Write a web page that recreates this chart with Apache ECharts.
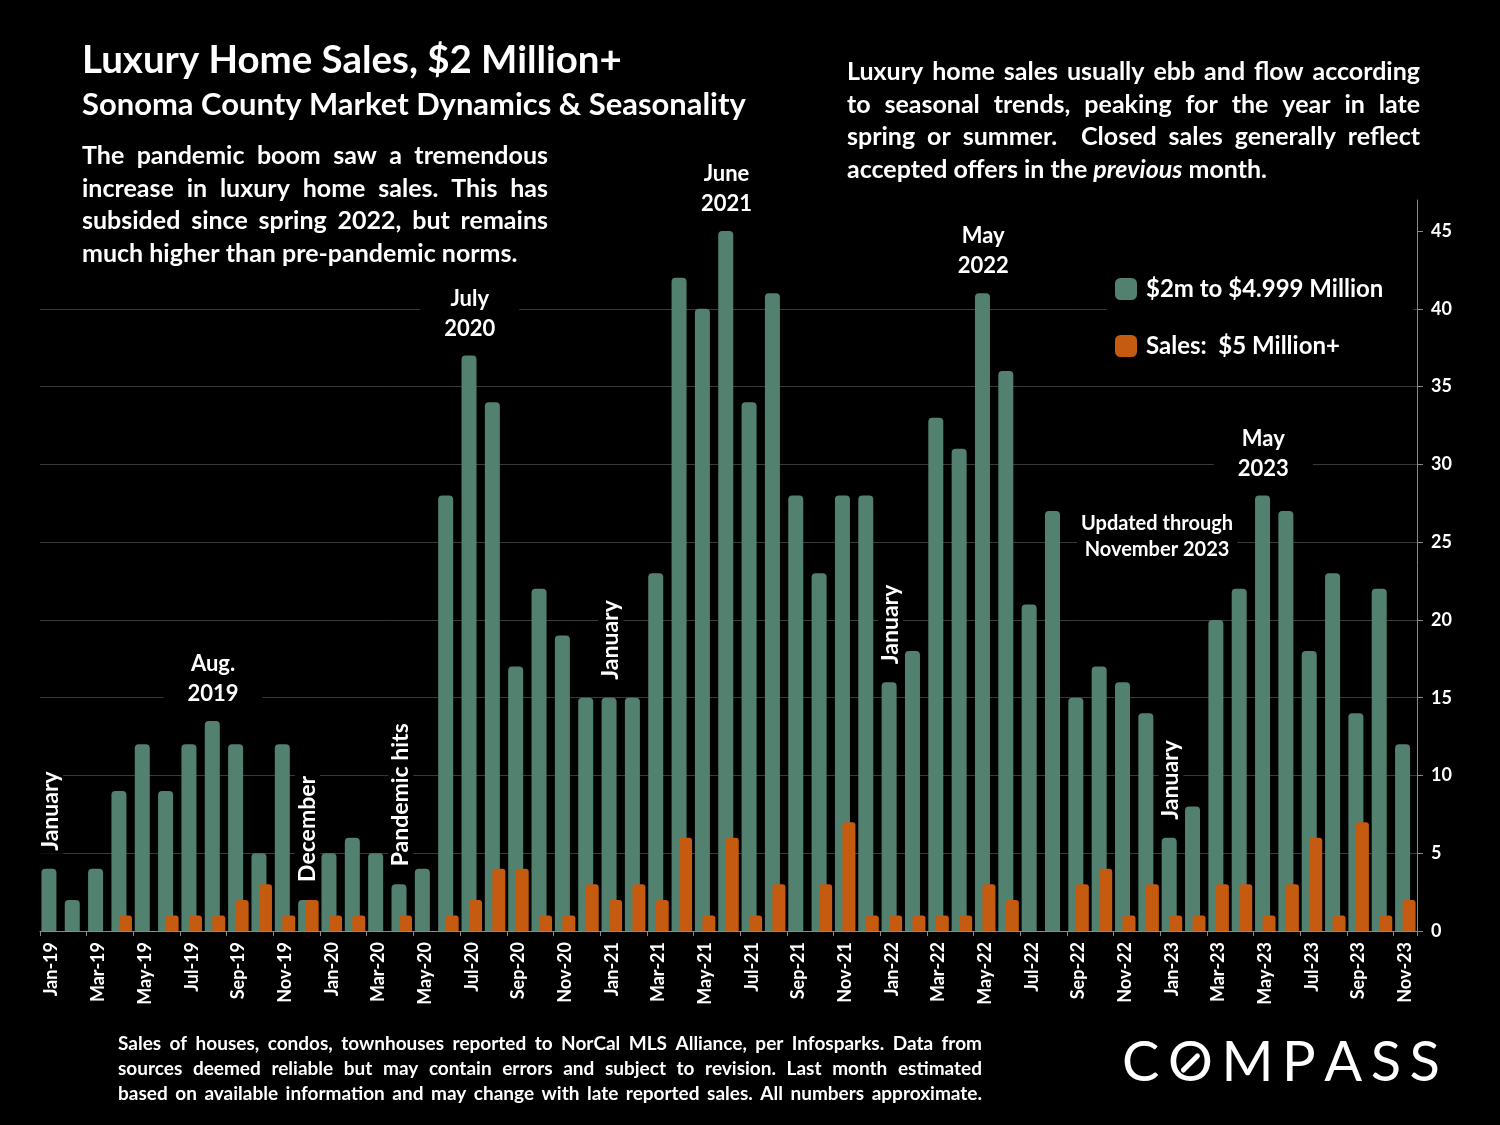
<!DOCTYPE html>
<html>
<head>
<meta charset="utf-8">
<script src="https://cdn.jsdelivr.net/npm/echarts@6/dist/echarts.min.js"></script>
<style>
html,body{margin:0;padding:0;background:#000;}
#c{width:1500px;height:1125px;}
</style>
</head>
<body>
<div id="c"></div>
<script>
// ---------------- DATA ----------------
const months = [
  'Jan-19','Feb-19','Mar-19','Apr-19','May-19','Jun-19','Jul-19','Aug-19','Sep-19','Oct-19','Nov-19','Dec-19',
  'Jan-20','Feb-20','Mar-20','Apr-20','May-20','Jun-20','Jul-20','Aug-20','Sep-20','Oct-20','Nov-20','Dec-20',
  'Jan-21','Feb-21','Mar-21','Apr-21','May-21','Jun-21','Jul-21','Aug-21','Sep-21','Oct-21','Nov-21','Dec-21',
  'Jan-22','Feb-22','Mar-22','Apr-22','May-22','Jun-22','Jul-22','Aug-22','Sep-22','Oct-22','Nov-22','Dec-22',
  'Jan-23','Feb-23','Mar-23','Apr-23','May-23','Jun-23','Jul-23','Aug-23','Sep-23','Oct-23','Nov-23'
];
const sales2to5m = [
  4, 2, 4, 9, 12, 9, 12, 13.5, 12, 5, 12, 2,
  5, 6, 5, 3, 4, 28, 37, 34, 17, 22, 19, 15,
  15, 15, 23, 42, 40, 45, 34, 41, 28, 23, 28, 28,
  16, 18, 33, 31, 41, 36, 21, 27, 15, 17, 16, 14,
  6, 8, 20, 22, 28, 27, 18, 23, 14, 22, 12
];
const sales5mPlus = [
  0, 0, 0, 1, 0, 1, 1, 1, 2, 3, 1, 2,
  1, 1, 0, 1, 0, 1, 2, 4, 4, 1, 1, 3,
  2, 3, 2, 6, 1, 6, 1, 3, 0, 3, 7, 1,
  1, 1, 1, 1, 3, 2, 0, 0, 3, 4, 1, 3,
  1, 1, 3, 3, 1, 3, 6, 1, 7, 1, 2
];
const yTickValues = [0, 5, 10, 15, 20, 25, 30, 35, 40, 45];
const seriesNames = ['$2m to $4.999 Million', 'Sales:  $5 Million+'];

const titleText = 'Luxury Home Sales, $2 Million+';
const subtitleText = 'Sonoma County Market Dynamics & Seasonality';
const leftParagraph = [
  'The pandemic boom saw a tremendous',
  'increase in luxury home sales. This has',
  'subsided since spring 2022, but remains',
  'much higher than pre-pandemic norms.'
];
const rightParagraph = [
  'Luxury home sales usually ebb and flow according',
  'to seasonal trends, peaking for the year in late',
  'spring or summer.  Closed sales generally reflect',
  'accepted offers in the *previous* month.'
];
const footerParagraph = [
  'Sales of houses, condos, townhouses reported to NorCal MLS Alliance, per Infosparks. Data from',
  'sources deemed reliable but may contain errors and subject to revision. Last month estimated',
  'based on available information and may change with late reported sales. All numbers approximate.'
];
const logoText = 'COMPASS';
const updatedNote = 'Updated through\nNovember 2023';

// annotations anchored to categories
const peakNotes = [
  { text: 'Aug.\n2019', cat: 'Aug-19' },
  { text: 'July\n2020', cat: 'Jul-20' },
  { text: 'June\n2021', cat: 'Jun-21' },
  { text: 'May\n2022', cat: 'May-22' },
  { text: 'May\n2023', cat: 'May-23' }
];
const verticalNotes = [
  { text: 'January', cat: 'Jan-19' },
  { text: 'December', cat: 'Dec-19' },
  { text: 'Pandemic hits', cat: 'Apr-20' },
  { text: 'January', cat: 'Jan-21' },
  { text: 'January', cat: 'Jan-22' },
  { text: 'January', cat: 'Jan-23' }
];

// ---------------- STYLE ----------------
const FONT = 'Lato';
const GREEN = '#52826F';
const ORANGE = '#C55A11';
const GRIDC = '#3a3a3a';
const AXISC = '#8a8a8a';

const chart = echarts.init(document.getElementById('c'), null, { renderer: 'canvas' });

chart.setOption({
  backgroundColor: '#000',
  animation: false,
  grid: { left: 40, right: 83, top: 200, bottom: 194 },
  legend: {
    orient: 'vertical',
    left: 1107, top: 268,
    itemWidth: 22, itemHeight: 22, itemGap: 33,
    icon: 'roundRect',
    backgroundColor: '#000',
    padding: [9, 30, 9, 8],
    textStyle: { color: '#fff', fontFamily: FONT, fontWeight: 'bold', fontSize: 24, padding: [0, 0, 0, 4] },
    data: seriesNames
  },
  xAxis: {
    type: 'category',
    data: months,
    boundaryGap: true,
    axisLine: { show: true, lineStyle: { color: AXISC, width: 1 } },
    axisTick: { show: true, interval: 1, length: 5, lineStyle: { color: AXISC } },
    axisLabel: { interval: 1, rotate: 90, color: '#fff', fontFamily: FONT, fontWeight: 'bold', fontSize: 18, margin: 11 },
    splitLine: { show: false }
  },
  yAxis: {
    type: 'value',
    position: 'right',
    min: 0, max: 47, interval: 5,
    axisLine: { show: true, lineStyle: { color: AXISC, width: 1 } },
    axisTick: { show: true, length: 6, customValues: yTickValues, lineStyle: { color: AXISC } },
    axisLabel: { customValues: yTickValues, color: '#fff', fontFamily: FONT, fontWeight: 'bold', fontSize: 18, margin: 14 },
    splitLine: { show: true, showMaxLine: false, lineStyle: { color: GRIDC, width: 1 } }
  },
  series: [
    {
      name: seriesNames[0], type: 'bar', data: sales2to5m,
      barWidth: 15, barGap: '-50%',
      itemStyle: { color: GREEN, borderRadius: [4, 4, 0, 0] },
      z: 2
    },
    {
      name: seriesNames[1], type: 'bar', data: sales5mPlus,
      barWidth: 13, barGap: '-50%',
      itemStyle: { color: ORANGE, borderRadius: [3, 3, 0, 0] },
      z: 3
    }
  ]
});

// ---------------- TEXT HELPERS ----------------
const mctx = document.createElement('canvas').getContext('2d');
function tw(t, size, weight, italic) {
  mctx.font = (italic ? 'italic ' : '') + weight + ' ' + size + 'px ' + FONT;
  return mctx.measureText(t).width;
}
function parseWords(line) {
  return line.split(' ').map(w => {
    const it = w.length > 2 && w[0] === '*' && w[w.length - 1] === '*';
    return { t: it ? w.slice(1, -1) : w, it: it };
  });
}
function paragraph(lines, x, y0, lh, width, size, weight, justifyLast, els) {
  let maxNat = 0;
  lines.forEach(l => {
    const ws = parseWords(l);
    let s = 0; ws.forEach(w => s += tw(w.t, size, weight, w.it));
    s += (ws.length - 1) * tw(' ', size, weight);
    maxNat = Math.max(maxNat, s);
  });
  if (maxNat > width * 0.99) size = size * width * 0.99 / maxNat;
  lines.forEach((l, i) => {
    const ws = parseWords(l);
    let s = 0; ws.forEach(w => { w.w = tw(w.t, size, weight, w.it); s += w.w; });
    const justify = (i < lines.length - 1) || justifyLast;
    const gap = justify && ws.length > 1 ? (width - s) / (ws.length - 1) : tw(' ', size, weight);
    let cx = x;
    ws.forEach(w => {
      if (w.t.length) {
        els.push({
          type: 'text', x: cx, y: y0 + i * lh, z: 10,
          style: {
            text: w.t, fill: '#fff', fontFamily: FONT, fontWeight: weight, fontSize: size,
            fontStyle: w.it ? 'italic' : 'normal', align: 'left', verticalAlign: 'middle'
          }
        });
      }
      cx += w.w + gap;
    });
  });
}
function fitSize(text, weight, width, base) {
  return base * width / tw(text, base, weight);
}

// ---------------- GRAPHICS ----------------
const els = [];
els.push({ type: 'rect', z: 1, shape: { x: 74, y: 136, width: 492, height: 134 }, style: { fill: '#000' } });

const tSize = fitSize(titleText, 'bold', 540, 34);
els.push({ type: 'text', x: 82, y: 61, z: 10, style: { text: titleText, fill: '#fff', fontFamily: FONT, fontWeight: 'bold', fontSize: tSize, align: 'left', verticalAlign: 'middle' } });
const sSize = fitSize(subtitleText, 'bold', 664, 27);
els.push({ type: 'text', x: 82, y: 105, z: 10, style: { text: subtitleText, fill: '#fff', fontFamily: FONT, fontWeight: 'bold', fontSize: sSize, align: 'left', verticalAlign: 'middle' } });

paragraph(leftParagraph, 82, 156, 32.5, 466, 25, 'bold', false, els);
paragraph(rightParagraph, 847, 72, 32.7, 573, 25, 'bold', false, els);
paragraph(footerParagraph, 118, 1044, 25, 864, 19, 'bold', true, els);

// logo letters spread across its width
(function () {
  const size = 56, x0 = 1122, x1 = 1440, yc = 1063;
  const letters = logoText.split('');
  const ws = letters.map(c => tw(c, size, 'normal'));
  const sum = ws.reduce((a, b) => a + b, 0);
  const gap = (x1 - x0 - sum) / (letters.length - 1);
  let cx = x0;
  letters.forEach((c, i) => {
    els.push({ type: 'text', x: cx, y: yc, z: 10, style: { text: c, fill: '#fff', fontFamily: FONT, fontWeight: 'normal', fontSize: size, align: 'left', verticalAlign: 'middle' } });
    if (c === 'O') {
      const ox = cx + ws[i] / 2;
      els.push({ type: 'line', z: 11, shape: { x1: ox - 7, y1: yc + 7, x2: ox + 7, y2: yc - 7 }, style: { stroke: '#fff', lineWidth: 5, lineCap: 'round' } });
    }
    cx += ws[i] + gap;
  });
})();

// data-anchored annotations
function catPx(cat, val) { return chart.convertToPixel({ xAxisIndex: 0, yAxisIndex: 0 }, [cat, val]); }
peakNotes.forEach(n => {
  const idx = months.indexOf(n.cat);
  const p = catPx(idx, sales2to5m[idx]);
  els.push({
    type: 'text', x: p[0] - 2, y: p[1] - 10, z: 10,
    style: {
      text: n.text, fill: '#fff', fontFamily: FONT, fontWeight: 'bold', fontSize: 22, lineHeight: 30,
      align: 'center', verticalAlign: 'bottom', backgroundColor: '#000', padding: [2, 24, 2, 24]
    }
  });
});
verticalNotes.forEach(n => {
  const idx = months.indexOf(n.cat);
  const p = catPx(idx, sales2to5m[idx]);
  els.push({
    type: 'text', x: p[0] - 1, y: p[1] - 15, rotation: Math.PI / 2, z: 10,
    style: {
      text: n.text, fill: '#fff', fontFamily: FONT, fontWeight: 'bold', fontSize: 23,
      align: 'left', verticalAlign: 'middle', backgroundColor: '#000', padding: [1, 3, 1, 3]
    }
  });
});
els.push({
  type: 'text', x: 1157, y: 537, z: 10,
  style: {
    text: updatedNote, fill: '#fff', fontFamily: FONT, fontWeight: 'bold', fontSize: 20, lineHeight: 26,
    align: 'center', verticalAlign: 'middle', backgroundColor: '#000', padding: [2, 4, 2, 4]
  }
});

chart.setOption({ graphic: { elements: els } });
</script>
</body>
</html>
